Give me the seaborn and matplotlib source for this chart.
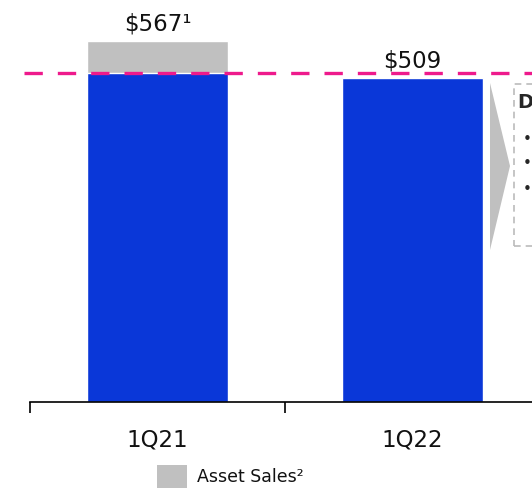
import matplotlib
matplotlib.use("Agg")
import matplotlib.pyplot as plt
import seaborn as sns
import pandas as pd
from matplotlib.patches import Polygon, Rectangle

categories = ["1Q21", "1Q22"]
base_values = [517, 509]
asset_sales = [50, 0]
bar_labels = ["$567¹", "$509"]
legend_label = "Asset Sales²"
reference_level = 517

BLUE = "#0A37D8"
GRAY = "#C0C0C0"
PINK = "#EE1A8C"

sns.set_theme(style="white")
plt.rcParams["font.family"] = ["DejaVu Sans"]

totals = [b + a for b, a in zip(base_values, asset_sales)]
df = pd.DataFrame({"cat": categories, "base": base_values, "total": totals})

fig = plt.figure(figsize=(5.32, 4.88), dpi=100)
ax = fig.add_axes([30 / 532, 86 / 488, 502 / 532, 402 / 488])

sns.barplot(data=df, x="cat", y="total", color=GRAY, width=0.553, ax=ax, saturation=1)
sns.barplot(data=df, x="cat", y="base", color=BLUE, width=0.553, ax=ax, saturation=1)

for s in ["top", "right", "left"]:
    ax.spines[s].set_visible(False)
ax.spines["bottom"].set_color("black")
ax.spines["bottom"].set_linewidth(1.2)
ax.set_yticks([])
ax.set_xticks([-0.5, 0.5, 1.5], minor=True)
ax.set_xticks([0, 1])
ax.set_xticklabels(categories, fontsize=16.5, color="#111111")
ax.tick_params(axis="x", which="major", length=0, pad=19)
ax.tick_params(axis="x", which="minor", length=8, width=1.2, color="black", direction="out", bottom=True)
ax.set_xlabel("")
ax.set_ylabel("")
ax.set_xlim(-0.5, -0.5 + 502 / 255)
ax.set_ylim(0, 402 / 0.6367)

for i, (t, lab) in enumerate(zip(totals, bar_labels)):
    ax.text(i, t + 8, lab, ha="center", va="bottom", fontsize=16.5, color="#111111")

ax.axhline(reference_level, xmin=-0.012, xmax=1.0, color=PINK, lw=2.4,
           dashes=(5.5, 4.5), clip_on=False, zorder=5)

# Callout arrow and dashed box (figure pixel coordinates)
def px(x, y):
    return (x / 532, 1 - y / 488)

arrow = Polygon([px(490, 83), px(510, 166), px(490, 250)], closed=True,
                transform=fig.transFigure, facecolor=GRAY, edgecolor="none")
fig.patches.append(arrow)
box = Rectangle(px(514, 246), 40 / 532, (246 - 84) / 488, transform=fig.transFigure,
                facecolor="none", edgecolor="#BBBBBB", lw=1.2, linestyle=(0, (4, 3)))
fig.patches.append(box)
fig.text(*px(517, 103), "D", fontsize=14, fontweight="bold", va="center", ha="left")
for y in [139, 163, 189]:
    fig.text(*px(523, y), "•", fontsize=11, va="center", ha="left")

# Legend
leg_patch = Rectangle(px(157, 488), 30 / 532, 23 / 488, transform=fig.transFigure,
                      facecolor=GRAY, edgecolor="none")
fig.patches.append(leg_patch)
fig.text(*px(197, 477), legend_label, fontsize=12.5, va="center", ha="left", color="#111111")

fig.savefig("out.png", dpi=100)
